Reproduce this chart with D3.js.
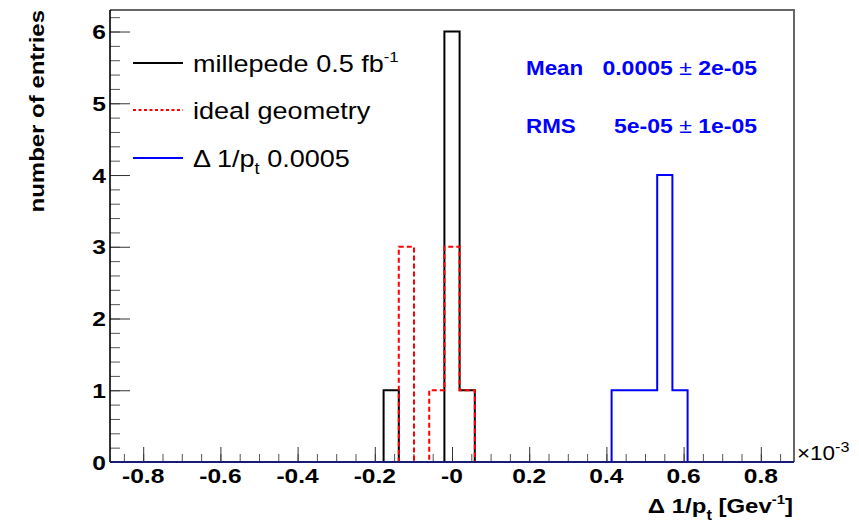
<!DOCTYPE html>
<html>
<head>
<meta charset="utf-8">
<script src="https://cdn.jsdelivr.net/npm/d3@7"></script>
<style>
  html, body { margin: 0; padding: 0; background: #fff; }
  svg { display: block; }
  text { font-family: "Liberation Sans", Arial, Helvetica, sans-serif; }
</style>
</head>
<body>
<svg id="chart" width="859" height="522"></svg>
<script>
// ---------------- data ----------------
const xMin = -0.886, xMax = 0.886, nBins = 45;   // histogram range (x 10^-3)
const millepede = [0,0,0,0,0, 0,0,0,0,0, 0,0,0,0,0, 0,0,0,1,0, 0,0,6,1,0, 0,0,0,0,0, 0,0,0,0,0, 0,0,0,0,0, 0,0,0,0,0];
const idealGeometry = [0,0,0,0,0, 0,0,0,0,0, 0,0,0,0,0, 0,0,0,0,3, 0,1,3,1,0, 0,0,0,0,0, 0,0,0,0,0, 0,0,0,0,0, 0,0,0,0,0];
const deltaPt = [0,0,0,0,0, 0,0,0,0,0, 0,0,0,0,0, 0,0,0,0,0, 0,0,0,0,0, 0,0,0,0,0, 0,0,0,1,1, 1,4,1,0,0, 0,0,0,0,0];
const xTickValues = [-0.8, -0.6, -0.4, -0.2, 0, 0.2, 0.4, 0.6, 0.8];
const xTickLabels = ["-0.8", "-0.6", "-0.4", "-0.2", "-0", "0.2", "0.4", "0.6", "0.8"];
const yTickValues = [0, 1, 2, 3, 4, 5, 6];
const yTickLabels = ["0", "1", "2", "3", "4", "5", "6"];
const yMax = 6.3;
const legendLabels = [
  [{t: "millepede 0.5 fb"}, {t: "-1", sup: true}],
  [{t: "ideal geometry"}],
  [{t: "\u0394 1/p"}, {t: "t", sub: true}, {t: " 0.0005"}]
];
const statNames = ["Mean", "RMS"];
const statValues = [["0.0005", "2e-05"], ["5e-05", "1e-05"]];

// ---------------- layout ----------------
const L = 110, R = 794, T = 10, B = 462;
const svg = d3.select("#chart");
const x = d3.scaleLinear().domain([xMin, xMax]).range([L, R]);
const y = d3.scaleLinear().domain([0, yMax]).range([B, T]);
const binW = (xMax - xMin) / nBins;

function addText(parent, px, py, parts, o) {
  const sx = o.sx || (o.weight === "bold" ? 1.17 : 1.15);
  const g = parent.append("g").attr("transform", `translate(${px},${py})` + (o.rotate ? ` rotate(${o.rotate})` : ""));
  const t = g.append("text")
    .attr("transform", `scale(${sx},1)`)
    .attr("text-anchor", o.anchor || "start")
    .attr("font-size", o.size)
    .attr("font-weight", o.weight || "normal")
    .attr("fill", o.fill || "#000");
  let shift = 0;
  const ss = o.supScale || 0.62;
  parts.forEach(p => {
    const s = t.append("tspan").text(p.t);
    let target = 0;
    if (p.sup) { target = -0.42 * o.size; s.attr("font-size", ss * o.size); }
    if (p.sub) { target = 0.32 * o.size; s.attr("font-size", 0.68 * o.size); }
    if (p.weight) s.attr("font-weight", p.weight);
    if (target !== shift) { s.attr("dy", target - shift); shift = target; }
  });
  return t;
}

// ---------------- frame ----------------
svg.append("path")
  .attr("d", `M${L},${T}H${R}V${B}`)
  .attr("fill", "none").attr("stroke", "#666").attr("stroke-width", 2);

// y axis ticks
const yMinor = d3.range(0, yMax + 1e-9, 0.2);
svg.append("g").attr("transform", `translate(${L},0)`)
  .call(d3.axisLeft(y).tickValues(yMinor).tickSize(-10).tickFormat("").tickSizeOuter(0))
  .call(g => g.select(".domain").remove())
  .selectAll("line").attr("stroke", "#555");
svg.append("g").attr("transform", `translate(${L},0)`)
  .call(d3.axisLeft(y).tickValues(yTickValues).tickSize(-20).tickFormat("").tickSizeOuter(0))
  .call(g => g.select(".domain").remove())
  .selectAll("line").attr("stroke", "#333");
svg.append("line").attr("x1", L).attr("x2", L).attr("y1", T).attr("y2", B)
  .attr("stroke", "#000").attr("stroke-width", 1.6);

// x axis ticks
const xMinor = d3.range(-0.85, 0.851, 0.05);
svg.append("g").attr("transform", `translate(0,${B})`)
  .call(d3.axisBottom(x).tickValues(xMinor).tickSize(-8).tickFormat("").tickSizeOuter(0))
  .call(g => g.select(".domain").remove())
  .selectAll("line").attr("stroke", "#555");
svg.append("g").attr("transform", `translate(0,${B})`)
  .call(d3.axisBottom(x).tickValues(xTickValues).tickSize(-15).tickFormat("").tickSizeOuter(0))
  .call(g => g.select(".domain").remove())
  .selectAll("line").attr("stroke", "#333");

// tick labels
xTickValues.forEach((v, i) => addText(svg, x(v), 483, [{t: xTickLabels[i]}], {size: 21, weight: "bold", anchor: "middle"}));
yTickValues.forEach((v, i) => addText(svg, 106, y(v) + 7.5, [{t: yTickLabels[i]}], {size: 21, weight: "bold", anchor: "end"}));

// ×10^-3
addText(svg, 797, 460, [{t: "\u00d710"}, {t: "-3", sup: true}], {size: 19.5, supScale: 0.72});

// axis titles
addText(svg, 793, 513, [{t: "\u0394 1/p"}, {t: "t", sub: true}, {t: " [Gev"}, {t: "-1", sup: true}, {t: "]"}],
  {size: 20.5, weight: "bold", anchor: "end"});
addText(svg, 44, T, [{t: "number of entries"}], {size: 20.5, weight: "bold", anchor: "end", rotate: -90});

// ---------------- histograms ----------------
function stepPoints(counts) {
  const pts = [[xMin, 0]];
  counts.forEach((c, i) => pts.push([xMin + i * binW, c]));
  pts.push([xMax, counts[counts.length - 1]]);
  pts.push([xMax, 0]);
  return pts;
}
const stepLine = d3.line().x(d => x(d[0])).y(d => y(d[1])).curve(d3.curveStepAfter);

const series = [
  {data: millepede, color: "#000", dash: null, legendDash: null},
  {data: idealGeometry, color: "#ff0000", dash: "5,3", legendDash: "3,2.5"},
  {data: deltaPt, color: "#0000ff", dash: null, legendDash: null}
];
series.forEach(s => {
  svg.append("path")
    .attr("d", stepLine(stepPoints(s.data)))
    .attr("fill", "none")
    .attr("stroke", s.color)
    .attr("stroke-width", 2)
    .attr("stroke-dasharray", s.dash);
});
// bottom axis line (drawn over the zero runs, dark navy as in the reference)
svg.append("line").attr("x1", L).attr("x2", R).attr("y1", B).attr("y2", B)
  .attr("stroke", "#1a1a78").attr("stroke-width", 2.2);

// ---------------- legend ----------------
const legendY = [63, 110, 158];
series.forEach((s, i) => {
  svg.append("line")
    .attr("x1", 133).attr("x2", 183).attr("y1", legendY[i]).attr("y2", legendY[i])
    .attr("stroke", s.color).attr("stroke-width", 2).attr("stroke-dasharray", s.legendDash);
  addText(svg, 193, legendY[i] + 8.5, legendLabels[i], {size: 23.5});
});

// ---------------- stats ----------------
const statY = [75, 133];
statNames.forEach((n, i) => {
  addText(svg, 526, statY[i], [{t: n}], {size: 20, weight: "bold", fill: "#0000ff", sx: 1.12});
  addText(svg, 757, statY[i], [{t: statValues[i][0] + " "}, {t: "\u00b1", weight: "normal"}, {t: " " + statValues[i][1]}],
    {size: 20, weight: "bold", fill: "#0000ff", anchor: "end", sx: 1.15});
});
</script>
</body>
</html>
